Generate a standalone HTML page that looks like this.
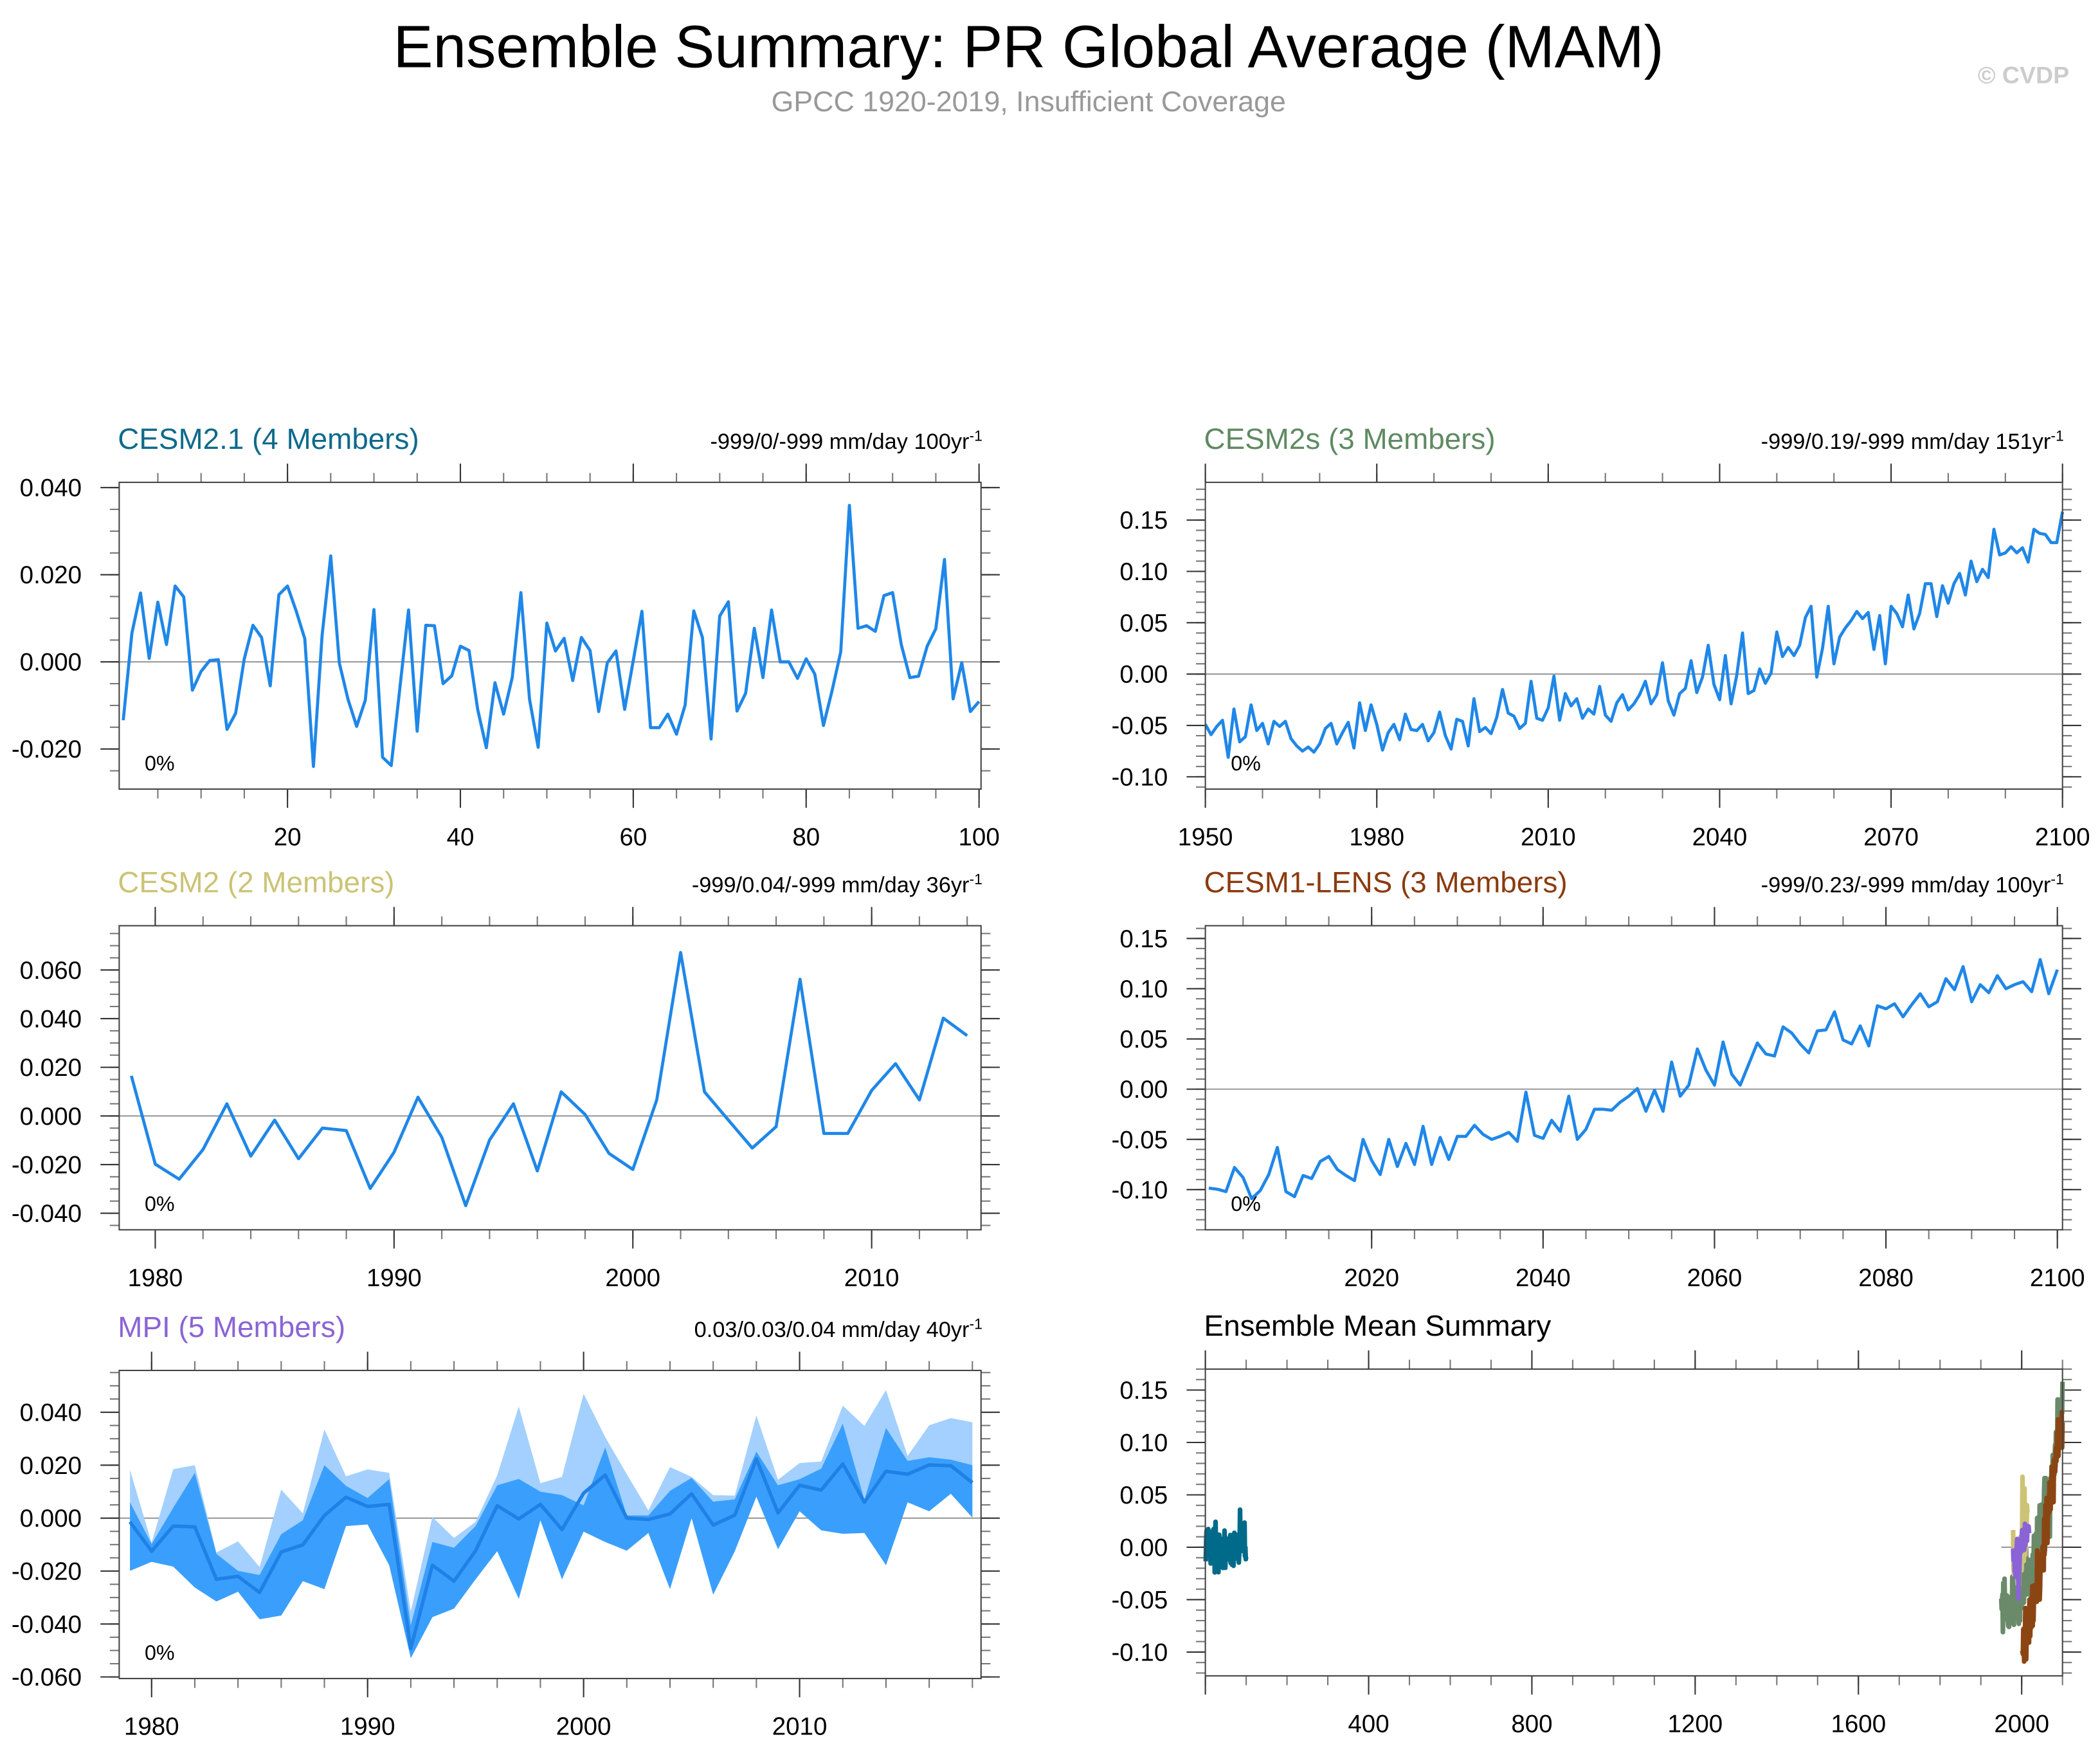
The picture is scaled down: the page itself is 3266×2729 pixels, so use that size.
<!DOCTYPE html>
<html><head><meta charset="utf-8"><style>
html,body{margin:0;padding:0;background:#fff;}
svg{display:block;font-family:"Liberation Sans",sans-serif;}
</style></head><body>
<svg id="fig" width="3266" height="2729" viewBox="0 0 1568 1310" xmlns="http://www.w3.org/2000/svg">
<rect x="0" y="0" width="1568" height="1310" fill="#fff"/>
<text x="768" y="50" text-anchor="middle" font-size="44.5" fill="#000">Ensemble Summary: PR Global Average (MAM)</text>
<text x="768" y="83" text-anchor="middle" font-size="21.5" fill="#999">GPCC 1920-2019, Insufficient Coverage</text>
<text x="1545" y="62" text-anchor="end" font-size="18" font-weight="bold" fill="#ccc">© CVDP</text>
<g id="panels"></g>
</svg>
<script>
// ---- data arrays ----
const cesm21Years = Array.from({length:100},(_,i)=>i+1);
const cesm21Values = [-0.0134,0.0066,0.0158,0.0008,0.0137,0.004,0.0174,0.0149,-0.0065,-0.0022,
0.0003,0.0005,-0.0155,-0.0118,0.0007,0.0084,0.0056,-0.0055,0.0154,0.0174,
0.0117,0.0053,-0.024,0.006,0.0243,-0.0003,-0.0086,-0.0148,-0.0088,0.012,
-0.0219,-0.0238,-0.006,0.0119,-0.0159,0.0084,0.0083,-0.005,-0.0032,0.0036,
0.0026,-0.0109,-0.0197,-0.0048,-0.012,-0.0036,0.0159,-0.0086,-0.0196,0.0089,
0.0025,0.0054,-0.0043,0.0056,0.0026,-0.0114,-0.0002,0.0025,-0.0109,0.0003,
0.0116,-0.0151,-0.0151,-0.012,-0.0166,-0.0099,0.0117,0.0056,-0.0177,0.0105,
0.0138,-0.0113,-0.0072,0.0077,-0.0036,0.0119,0,0,-0.0038,0.0007,
-0.0028,-0.0146,-0.0066,0.0023,0.0359,0.0077,0.0083,0.007,0.0152,0.0159,
0.004,-0.0036,-0.0033,0.0036,0.0076,0.0235,-0.0085,-0.0002,-0.0114,-0.0091];

const cesm2sYears = Array.from({length:151},(_,i)=>1950+i);
const cesm2sValues = [-0.049,-0.059,-0.051,-0.045,-0.081,-0.034,-0.066,-0.061,-0.030,-0.055,
-0.048,-0.068,-0.046,-0.051,-0.046,-0.063,-0.070,-0.075,-0.071,-0.076,
-0.068,-0.053,-0.048,-0.068,-0.057,-0.047,-0.072,-0.028,-0.055,-0.030,
-0.049,-0.074,-0.057,-0.049,-0.064,-0.039,-0.054,-0.055,-0.049,-0.065,
-0.057,-0.037,-0.060,-0.073,-0.044,-0.046,-0.070,-0.024,-0.056,-0.052,
-0.058,-0.042,-0.015,-0.038,-0.041,-0.053,-0.048,-0.007,-0.043,-0.045,
-0.033,-0.002,-0.045,-0.019,-0.031,-0.024,-0.043,-0.034,-0.039,-0.012,
-0.040,-0.046,-0.028,-0.020,-0.035,-0.029,-0.020,-0.007,-0.029,-0.020,
0.011,-0.026,-0.040,-0.019,-0.014,0.013,-0.018,-0.003,0.028,-0.010,
-0.025,0.018,-0.029,-0.001,0.040,-0.019,-0.016,0.005,-0.009,0.001,
0.041,0.017,0.026,0.018,0.028,0.055,0.066,-0.003,0.025,0.066,
0.010,0.036,0.045,0.052,0.061,0.054,0.060,0.024,0.057,0.010,
0.066,0.059,0.046,0.077,0.044,0.059,0.088,0.088,0.056,0.086,
0.069,0.088,0.098,0.077,0.110,0.090,0.102,0.094,0.141,0.116,
0.118,0.124,0.118,0.123,0.109,0.141,0.137,0.136,0.128,0.128,0.158];

const cesm2Years = Array.from({length:36},(_,i)=>1979+i);
const cesm2Values = [0.0165,-0.0198,-0.026,-0.0138,0.005,-0.0165,-0.0017,-0.0176,-0.005,-0.006,
-0.0298,-0.0149,0.0077,-0.0088,-0.0369,-0.0099,0.005,-0.0226,0.0099,0.0006,
-0.0154,-0.022,0.0066,0.0672,0.0099,-0.0017,-0.0132,-0.0044,0.0562,-0.0072,
-0.0072,0.0105,0.0215,0.0066,0.0402,0.033];

const cesm1Years = Array.from({length:100},(_,i)=>2001+i);
const cesm1Values = [-0.0985,-0.0996,-0.102,-0.078,-0.088,-0.109,-0.101,-0.085,-0.058,-0.102,
-0.107,-0.086,-0.089,-0.072,-0.067,-0.080,-0.086,-0.091,-0.050,-0.071,
-0.085,-0.050,-0.077,-0.054,-0.075,-0.037,-0.075,-0.048,-0.070,-0.047,
-0.047,-0.036,-0.045,-0.050,-0.047,-0.043,-0.052,-0.003,-0.046,-0.049,
-0.031,-0.042,-0.007,-0.050,-0.040,-0.020,-0.020,-0.021,-0.013,-0.007,
0.0006,-0.022,-0.001,-0.022,0.027,-0.007,0.004,0.040,0.019,0.004,
0.047,0.015,0.004,0.025,0.046,0.035,0.033,0.062,0.056,0.045,
0.036,0.058,0.059,0.077,0.049,0.045,0.063,0.043,0.083,0.080,
0.085,0.072,0.084,0.095,0.082,0.087,0.110,0.099,0.122,0.087,
0.104,0.096,0.113,0.100,0.104,0.107,0.097,0.129,0.095,0.119];

const mpiYears = Array.from({length:40},(_,i)=>1979+i);
const mpiMean = [-0.0014,-0.0125,-0.003,-0.0033,-0.0231,-0.022,-0.0281,-0.0128,-0.0101,0.001,
0.0079,0.0044,0.0052,-0.0492,-0.0178,-0.0238,-0.0123,0.0047,-0.0003,0.0052,
-0.0043,0.0094,0.0163,0,-0.0005,0.0016,0.0092,-0.0026,0.0011,0.0224,
0.002,0.0124,0.0106,0.0205,0.006,0.0177,0.0166,0.0201,0.0198,0.0134];
const mpiQ75 = [0.006,-0.0098,0.0039,0.0171,-0.0135,-0.0199,-0.0215,-0.0061,-0.0008,0.02,
0.0122,0.0076,0.0147,-0.0405,-0.009,-0.0112,-0.003,0.0124,0.0148,0.01,
0.0087,0.0048,0.0267,0.001,0.001,0.0103,0.0152,0.0062,0.0071,0.0251,
0.0124,0.0147,0.0187,0.0357,0.0069,0.0341,0.0216,0.023,0.0221,0.02];
const mpiQ25 = [-0.0199,-0.0165,-0.0183,-0.0262,-0.0315,-0.0278,-0.0382,-0.0368,-0.0238,-0.0268,
-0.003,-0.0024,-0.0178,-0.0529,-0.0374,-0.0342,-0.0231,-0.0125,-0.0305,-0.0008,
-0.0231,-0.0051,-0.009,-0.0123,-0.0056,-0.0268,0,-0.0289,-0.0125,0.0081,
-0.0117,0.0026,-0.0046,-0.0059,-0.0056,-0.0178,0.006,0.0026,0.0092,0.0002];
const mpiMax = [0.0182,-0.0093,0.0185,0.02,-0.013,-0.0088,-0.0185,0.0108,0.0018,0.0335,
0.0158,0.0184,0.0171,-0.0352,0.0004,-0.0075,-0.0014,0.0161,0.0422,0.0132,
0.0156,0.047,0.0306,0.0166,0.0029,0.0193,0.0156,0.0087,0.0085,0.0388,
0.0145,0.0208,0.0214,0.0425,0.0348,0.0484,0.0235,0.0351,0.0378,0.0362];
const mpiMin = mpiQ25.slice();

// ---- helpers ----
const NS='http://www.w3.org/2000/svg';
const root=document.getElementById('panels');
function el(tag,attrs,parent){const e=document.createElementNS(NS,tag);for(const k in attrs)e.setAttribute(k,attrs[k]);(parent||root).appendChild(e);return e;}
function mkScale(d0,d1,r0,r1){return v=>r0+(v-d0)/(d1-d0)*(r1-r0);}
function fmt(v,dec){return Math.abs(v)<1e-12?(0).toFixed(dec):v.toFixed(dec);}

function panel(cfg){
  const g=el('g',{});
  
  
  const X=mkScale(cfg.xd[0],cfg.xd[1],cfg.x0,cfg.x1);
  const Y=mkScale(cfg.yd[0],cfg.yd[1],cfg.y1,cfg.y0);
  const t=el('text',{x:cfg.x0-1,y:cfg.y0-25,'font-size':22,fill:cfg.tcolor},g);
  t.textContent=cfg.title;
  
  
  if(cfg.rtext){
    const r=el('text',{x:cfg.x1+1,y:cfg.y0-25,'font-size':16.5,'text-anchor':'end',fill:'#000'},g);
    r.textContent=cfg.rtext;
    const sup=el('tspan',{'font-size':11,dy:-6},r);sup.textContent='-1';
    
    
  }
  const tg=el('g',{},g);
  
  
  function ticksY(step,len,col,labels){
    const n0=Math.ceil(cfg.yd[0]/step-1e-6),n1=Math.floor(cfg.yd[1]/step+1e-6);
    for(let n=n0;n<=n1;n++){const v=n*step,y=Y(v);
      el('line',{x1:cfg.x0-len,x2:cfg.x0,y1:y,y2:y,stroke:col,'stroke-width':1},tg);
      el('line',{x1:cfg.x1,x2:cfg.x1+len,y1:y,y2:y,stroke:col,'stroke-width':1},tg);
      if(labels){const l=el('text',{x:cfg.x0-28,y:y+6.5,'font-size':18.5,'text-anchor':'end',fill:'#000'},tg);l.textContent=fmt(v,cfg.ydec);
        
        }
    }
  }
  function ticksX(step,len,col,labels){
    const n0=Math.ceil(cfg.xd[0]/step-1e-6),n1=Math.floor(cfg.xd[1]/step+1e-6);
    for(let n=n0;n<=n1;n++){const v=n*step,x=X(v);
      el('line',{x1:x,x2:x,y1:cfg.y0-len,y2:cfg.y0,stroke:col,'stroke-width':1},tg);
      el('line',{x1:x,x2:x,y1:cfg.y1,y2:cfg.y1+len,stroke:col,'stroke-width':1},tg);
      if(labels&&v!==0){const l=el('text',{x:x,y:cfg.y1+42,'font-size':18.5,'text-anchor':'middle',fill:'#000'},tg);l.textContent=String(v);
        
        }
    }
  }
  ticksY(cfg.yminor,7,'#777',false);
  ticksY(cfg.ymajor,14,'#333',true);
  ticksX(cfg.xminor,7,'#777',false);
  ticksX(cfg.xmajor,14,'#333',true);
  const zx0=cfg.zeroFrom!==undefined?X(cfg.zeroFrom):cfg.x0;
  const z=el('line',{x1:zx0,x2:cfg.x1,y1:Y(0),y2:Y(0),stroke:'#999','stroke-width':1},g);
  
  
  cfg.draw(g,X,Y);
  const f=el('rect',{x:cfg.x0,y:cfg.y0,width:cfg.x1-cfg.x0,height:cfg.y1-cfg.y0,fill:'none',stroke:'#444','stroke-width':1},g);
  
  
  if(cfg.pct){const p=el('text',{x:cfg.x0+19,y:cfg.y1-14,'font-size':15.5,fill:'#000'},g);p.textContent='0%';
    
    }
}
function line(g,X,Y,xs,ys,color,w,name){
  const d=xs.map((x,i)=>(i?'L':'M')+X(x).toFixed(2)+','+Y(ys[i]).toFixed(2)).join('');
  const p=el('path',{d:d,fill:'none',stroke:color,'stroke-width':w,'stroke-linejoin':'round'},g);
  
  
}
function band(g,X,Y,xs,lo,hi,color,name){
  let d=xs.map((x,i)=>(i?'L':'M')+X(x).toFixed(2)+','+Y(hi[i]).toFixed(2)).join('');
  for(let i=xs.length-1;i>=0;i--)d+='L'+X(xs[i]).toFixed(2)+','+Y(lo[i]).toFixed(2);
  const p=el('path',{d:d+'Z',fill:color,stroke:'none'},g);
  
  
}
const LC='#1f87e8';
panel({name:'cesm21-panel',title:'CESM2.1 (4 Members)',tcolor:'#0e6a8a',rtext:'-999/0/-999 mm/day 100yr',
  x0:89,x1:732.5,y0:360,y1:589,xd:[0.53,100.23],yd:[-0.0292,0.0412],ymajor:0.02,yminor:0.005,ydec:3,xmajor:20,xminor:5,pct:true,
  draw:(g,X,Y)=>line(g,X,Y,cesm21Years,cesm21Values,LC,2.3,'cesm21-line')});
panel({name:'cesm2s-panel',title:'CESM2s (3 Members)',tcolor:'#5f8a62',rtext:'-999/0.19/-999 mm/day 151yr',
  x0:900,x1:1540,y0:360,y1:589,xd:[1950,2100],yd:[-0.112,0.1867],ymajor:0.05,yminor:0.01,ydec:2,xmajor:30,xminor:10,pct:true,
  draw:(g,X,Y)=>line(g,X,Y,cesm2sYears,cesm2sValues,LC,2.3,'cesm2s-line')});
panel({name:'cesm2-panel',title:'CESM2 (2 Members)',tcolor:'#cbc375',rtext:'-999/0.04/-999 mm/day 36yr',
  x0:89,x1:732.5,y0:691,y1:918,xd:[1978.49,2014.58],yd:[-0.0468,0.0782],ymajor:0.02,yminor:0.005,ydec:3,xmajor:10,xminor:2,pct:true,
  draw:(g,X,Y)=>line(g,X,Y,cesm2Years,cesm2Values,LC,2.3,'cesm2-line')});
panel({name:'cesm1-lens-panel',title:'CESM1-LENS (3 Members)',tcolor:'#8b3a0e',rtext:'-999/0.23/-999 mm/day 100yr',
  x0:900,x1:1540,y0:691,y1:918,xd:[2000.6,2100.6],yd:[-0.14,0.1627],ymajor:0.05,yminor:0.01,ydec:2,xmajor:20,xminor:5,pct:true,
  draw:(g,X,Y)=>line(g,X,Y,cesm1Years,cesm1Values,LC,2.3,'cesm1-lens-line')});
panel({name:'mpi-panel',title:'MPI (5 Members)',tcolor:'#8a64d6',rtext:'0.03/0.03/0.04 mm/day 40yr',
  x0:89,x1:732.5,y0:1023,y1:1253,xd:[1978.5,2018.4],yd:[-0.0606,0.0558],ymajor:0.02,yminor:0.005,ydec:3,xmajor:10,xminor:2,pct:true,
  draw:(g,X,Y)=>{band(g,X,Y,mpiYears,mpiMin,mpiMax,'#a3d0ff','mpi-range-band');
    band(g,X,Y,mpiYears,mpiQ25,mpiQ75,'#3a9ffc','mpi-iqr-band');
    line(g,X,Y,mpiYears,mpiMean,'#1f80e6',2.6,'mpi-mean-line');}});
panel({name:'ensemble-mean-summary-panel',title:'Ensemble Mean Summary',tcolor:'#000',rtext:null,zeroFrom:1950,
  x0:900,x1:1540,y0:1022,y1:1251,xd:[0,2100],yd:[-0.1227,0.17],ymajor:0.05,yminor:0.01,ydec:2,xmajor:400,xminor:100,pct:false,
  draw:(g,X,Y)=>{line(g,X,Y,cesm21Years,cesm21Values,'#006a8a',3.5,'summary-cesm21');
    line(g,X,Y,cesm2sYears,cesm2sValues,'#6a8a6a',3.5,'summary-cesm2s');
    line(g,X,Y,cesm2Years,cesm2Values,'#cdc377',3.5,'summary-cesm2');
    line(g,X,Y,mpiYears,mpiMean,'#8a64d6',3.5,'summary-mpi');
    line(g,X,Y,cesm1Years,cesm1Values,'#8b4513',3.5,'summary-cesm1-lens');}});
</script>
</body></html>
